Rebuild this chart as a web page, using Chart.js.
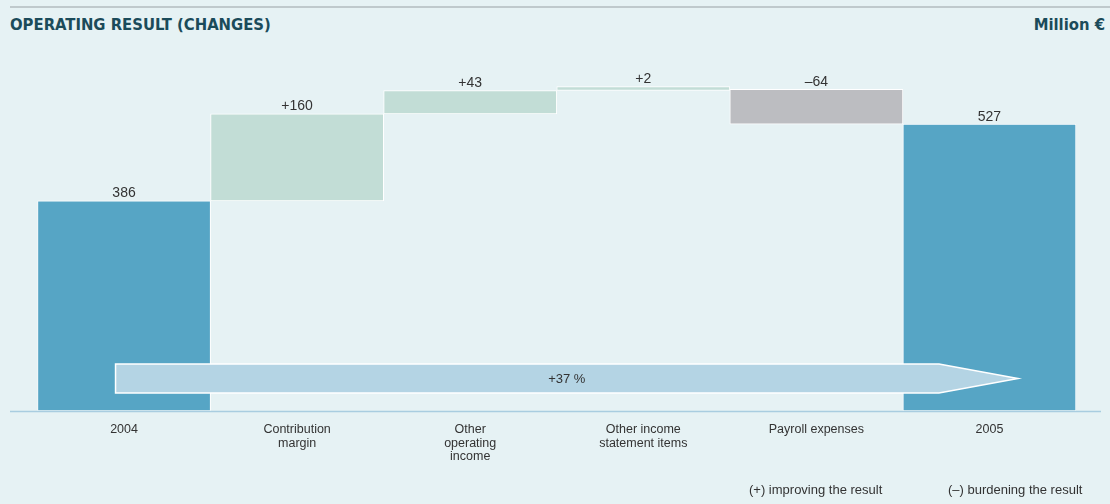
<!DOCTYPE html>
<html>
<head>
<meta charset="utf-8">
<script src="https://cdn.jsdelivr.net/npm/chart.js@4.4.0/dist/chart.umd.min.js"></script>
<style>
  html, body { margin: 0; padding: 0; background: #e6f2f4; }
  #wrap { position: relative; width: 1110px; height: 504px; overflow: hidden; background: #e6f2f4; }
  #topline { position: absolute; left: 10px; right: 0; top: 6px; height: 2px; background: #bfc9cc; }
  .title { position: absolute; top: 15px; font-family: "Liberation Sans Narrow", "DejaVu Sans Condensed", sans-serif; font-weight: bold; font-size: 16.5px; color: #1b4b5a; white-space: nowrap; }
  #t1 { left: 10px; }
  #t2 { right: 5px; }
  .note { position: absolute; top: 482px; font-family: "Liberation Sans", sans-serif; font-size: 13px; color: #333; white-space: nowrap; }
  #n1 { left: 749px; }
  #n2 { left: 948px; }
  canvas { position: absolute; left: 0; top: 0; }
</style>
</head>
<body>
<div id="wrap">
  <div id="topline"></div>
  <div class="title" id="t1">OPERATING RESULT (CHANGES)</div>
  <div class="title" id="t2">Million €</div>
  <canvas id="chart" width="1110" height="504"></canvas>
  <div class="note" id="n1">(+) improving the result</div>
  <div class="note" id="n2">(–) burdening the result</div>
</div>
<script>
// Chart data
const categories = [["2004"], ["Contribution", "margin"], ["Other", "operating", "income"], ["Other income", "statement items"], ["Payroll expenses"], ["2005"]];
const changes = [386, 160, 43, 2, -64, 527];
const isTotal = [true, false, false, false, false, true];
const valueLabels = ["386", "+160", "+43", "+2", "–64", "527"];
const growthLabel = "+37 %";

// Build floating ranges for the waterfall
let running = 0;
const ranges = changes.map((v, i) => {
  if (isTotal[i]) { running = v; return [0, v]; }
  const start = running;
  running += v;
  return [start, running];
});
const colors = changes.map((v, i) => isTotal[i] ? "#56a5c5" : (v >= 0 ? "#c2ddd6" : "#bcbdc1"));

const extras = {
  id: "extras",
  afterDatasetsDraw(chart) {
    const ctx = chart.ctx;
    const x = chart.scales.x;
    const area = chart.chartArea;
    ctx.save();

    // value labels above bars
    ctx.font = "14px 'Liberation Sans', sans-serif";
    ctx.fillStyle = "#333";
    ctx.textAlign = "center";
    ctx.textBaseline = "alphabetic";
    chart.getDatasetMeta(0).data.forEach((bar, i) => {
      ctx.fillText(valueLabels[i], bar.x, Math.min(bar.y, bar.base) - 3.5);
    });

    // growth arrow
    const left = x.getPixelForValue(0) - 8.5;
    const tip = x.getPixelForValue(5) + 28.5;
    const shaftEnd = tip - 79;
    const bottom = area.bottom - 18;
    const top = bottom - 29;
    const mid = (top + bottom) / 2;
    ctx.beginPath();
    ctx.moveTo(left, top);
    ctx.lineTo(shaftEnd, top);
    ctx.lineTo(tip, mid);
    ctx.lineTo(shaftEnd, bottom);
    ctx.lineTo(left, bottom);
    ctx.closePath();
    ctx.fillStyle = "#b4d4e4";
    ctx.fill();
    ctx.strokeStyle = "#ffffff";
    ctx.lineWidth = 1.5;
    ctx.stroke();
    ctx.fillStyle = "#333";
    ctx.font = "13px 'Liberation Sans', sans-serif";
    ctx.textBaseline = "middle";
    ctx.fillText(growthLabel, (left + tip) / 2, mid + 1);

    // baseline
    ctx.beginPath();
    ctx.moveTo(10, area.bottom + 0.5);
    ctx.lineTo(1101, area.bottom + 0.5);
    ctx.strokeStyle = "#a9cde0";
    ctx.lineWidth = 1.5;
    ctx.stroke();
    ctx.restore();
  }
};

new Chart(document.getElementById("chart"), {
  type: "bar",
  data: {
    labels: categories,
    datasets: [{
      data: ranges,
      backgroundColor: colors,
      borderColor: "#ffffff",
      borderWidth: 1,
      borderSkipped: false,
      minBarLength: 4,
      categoryPercentage: 1,
      barPercentage: 1
    }]
  },
  options: {
    responsive: false,
    animation: false,
    layout: { padding: { left: 37.5, right: 34, top: 54, bottom: 0 } },
    plugins: { legend: { display: false }, tooltip: { enabled: false } },
    scales: {
      y: { display: false, min: 0, max: 656 },
      x: {
        grid: { display: false, drawTicks: false },
        border: { display: false },
        ticks: {
          color: "#333",
          padding: 12,
          maxRotation: 0,
          autoSkip: false,
          font: { family: "'Liberation Sans', sans-serif", size: 12.5, lineHeight: 1.07 }
        },
        afterFit(scale) { scale.height = 93; }
      }
    }
  },
  plugins: [extras]
});
</script>
</body>
</html>
